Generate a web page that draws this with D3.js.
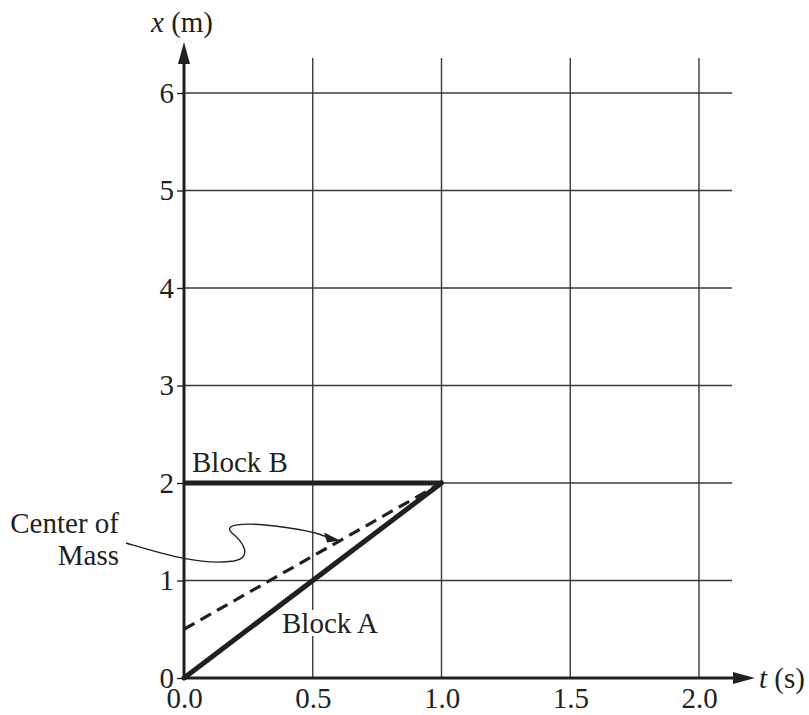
<!DOCTYPE html>
<html>
<head>
<meta charset="utf-8">
<script src="https://cdn.jsdelivr.net/npm/d3@7"></script>
<style>
  html, body { margin: 0; padding: 0; background: #fff; }
  svg { display: block; }
  text { font-family: "Liberation Serif", "DejaVu Serif", serif; fill: #231f20; }
</style>
</head>
<body>
<svg id="chart" width="809" height="715"></svg>
<script>
// Position-time data (t in s, x in m)
const tTicks = [0.0, 0.5, 1.0, 1.5, 2.0];
const tTickLabels = ["0.0", "0.5", "1.0", "1.5", "2.0"];
const xTicks = [0, 1, 2, 3, 4, 5, 6];
const blockA = [[0, 0], [1, 2]];
const blockB = [[0, 2], [1, 2]];
const centerOfMass = [[0, 0.5], [1, 2]];

const svg = d3.select("#chart");
const ink = "#231f20";
const fs = "29px";

const tScale = d3.scaleLinear().domain([0, 2]).range([184, 699]);
const xScale = d3.scaleLinear().domain([0, 6]).range([678, 93]);

// Grid: horizontal lines at each metre
svg.append("g").selectAll("line")
  .data(xTicks.filter(d => d > 0))
  .join("line")
  .attr("x1", tScale(0)).attr("x2", 732)
  .attr("y1", d => xScale(d)).attr("y2", d => xScale(d))
  .attr("stroke", "#3a3a3a").attr("stroke-width", 1.4);

// Grid: vertical lines at each half second
svg.append("g").selectAll("line")
  .data(tTicks.filter(d => d > 0))
  .join("line")
  .attr("x1", d => tScale(d)).attr("x2", d => tScale(d))
  .attr("y1", 58).attr("y2", xScale(0))
  .attr("stroke", "#3a3a3a").attr("stroke-width", 1.4);

// Y-axis ticks and labels
const yAxis = d3.axisLeft(xScale).tickValues(xTicks).tickSize(7).tickPadding(3).tickFormat(d3.format("d"));
const yg = svg.append("g").attr("transform", `translate(${tScale(0)},0)`).call(yAxis);
yg.select(".domain").remove();
yg.selectAll(".tick line").attr("stroke", ink).attr("stroke-width", 1.4);
yg.selectAll(".tick text").style("font-size", fs).attr("fill", ink).attr("dy", "0.32em");

// X-axis labels
const xAxis = d3.axisBottom(tScale).tickValues(tTicks).tickSize(0).tickPadding(9)
  .tickFormat((d, i) => tTickLabels[i]);
const xg = svg.append("g").attr("transform", `translate(0,${xScale(0)})`).call(xAxis);
xg.select(".domain").remove();
xg.selectAll(".tick text").style("font-size", fs).attr("fill", ink);

// Axes with arrowheads
svg.append("line")
  .attr("x1", tScale(0)).attr("x2", tScale(0))
  .attr("y1", xScale(0) + 1.5).attr("y2", 60)
  .attr("stroke", ink).attr("stroke-width", 3);
svg.append("path")
  .attr("d", `M${tScale(0)},42 L${tScale(0) - 6},64 L${tScale(0) + 6},64 Z`)
  .attr("fill", ink);
svg.append("line")
  .attr("x1", tScale(0) - 1.5).attr("x2", 738)
  .attr("y1", xScale(0)).attr("y2", xScale(0))
  .attr("stroke", ink).attr("stroke-width", 3);
svg.append("path")
  .attr("d", `M755,${xScale(0)} L733,${xScale(0) - 6} L733,${xScale(0) + 6} Z`)
  .attr("fill", ink);

// Axis titles
const yTitle = svg.append("text").attr("x", 151).attr("y", 32).style("font-size", fs);
yTitle.append("tspan").style("font-style", "italic").text("x");
yTitle.append("tspan").text(" (m)");
const xTitle = svg.append("text").attr("x", 759).attr("y", 688).style("font-size", fs);
xTitle.append("tspan").style("font-style", "italic").text("t");
xTitle.append("tspan").text(" (s)");

const line = d3.line().x(d => tScale(d[0])).y(d => xScale(d[1]));

// Center of mass (dashed)
svg.append("path").datum(centerOfMass)
  .attr("d", line).attr("fill", "none")
  .attr("stroke", ink).attr("stroke-width", 3.2)
  .attr("stroke-dasharray", "12,7");

// Block A and Block B
svg.append("path").datum(blockA)
  .attr("d", line).attr("fill", "none")
  .attr("stroke", ink).attr("stroke-width", 5).attr("stroke-linecap", "round");
svg.append("path").datum(blockB)
  .attr("d", line).attr("fill", "none")
  .attr("stroke", ink).attr("stroke-width", 5);

// Labels
svg.append("text").attr("x", 192).attr("y", 472).style("font-size", fs).text("Block B");
const aLabel = svg.append("text").attr("x", 282).attr("y", 633).style("font-size", fs).text("Block A");
const bb = aLabel.node().getBBox();
svg.insert("rect", () => aLabel.node())
  .attr("x", bb.x).attr("y", bb.y + 3).attr("width", bb.width).attr("height", bb.height - 6)
  .attr("fill", "#fff");

svg.append("text").attr("x", 119).attr("y", 533).attr("text-anchor", "end")
  .style("font-size", fs).text("Center of");
svg.append("text").attr("x", 119).attr("y", 565).attr("text-anchor", "end")
  .style("font-size", fs).text("Mass");

// Curved pointer from the label to the dashed line
const tip = [tScale(0.606), xScale(0.5 + 1.5 * 0.606)];
svg.append("path")
  .attr("d", `M126,543 C160,553 200,566 234,561 C254,557 242,541 232,533 C222,524 245,523 265,525 C295,528 320,533 ${tip[0] - 10},${tip[1] - 2}`)
  .attr("fill", "none").attr("stroke", ink).attr("stroke-width", 1.4);
svg.append("path")
  .attr("d", `M${tip[0]},${tip[1]} L${tip[0] - 16},${tip[1] - 8} L${tip[0] - 13},${tip[1] + 2} Z`)
  .attr("fill", ink);
</script>
</body>
</html>
